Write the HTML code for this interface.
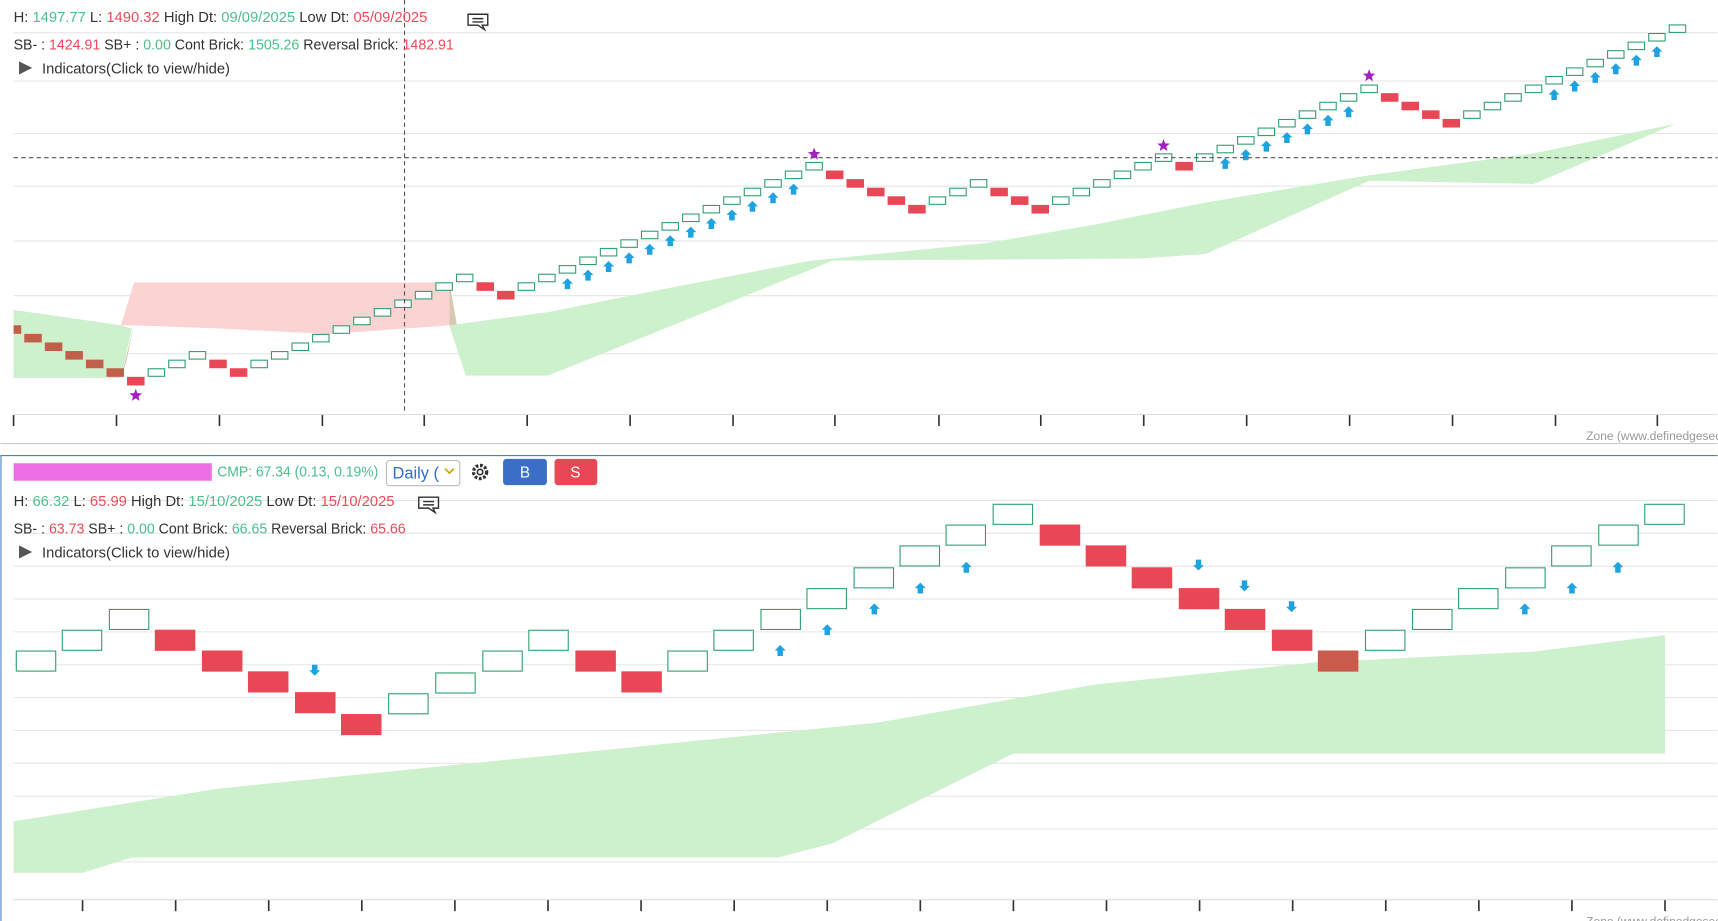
<!DOCTYPE html>
<html><head><meta charset="utf-8"><style>
html,body{margin:0;padding:0;background:#fff;overflow:hidden}
svg{display:block;font-family:"Liberation Sans",sans-serif}
</style></head><body>
<svg id="s" width="1718" height="921" viewBox="0 0 1568 841" xmlns="http://www.w3.org/2000/svg">
<rect width="1568" height="841" fill="#fff"/>
<g id="grid" stroke="#e6e6e6" stroke-width="1"></g>
<polygon points="12,283 110,297 120,300 110,345 12,345" fill="#cdf0cd"/>
<polygon points="110,297 122,258 410,258 410,297 425,343 410,297 370,300 300,305 200,300 120,297" fill="#fbd3d3"/>
<polygon points="110,345 122,297 115,330" fill="#d8c8b0"/>
<polygon points="410,258 410,297 425,343" fill="#d8c8b0"/>
<polygon points="410,297 500,285 600,265 740,238 800,232 900,222 1000,205 1100,185 1250,160 1400,140 1530,113 1400,168 1250,165 1100,232 1040,236 760,238 500,343 425,343" fill="#cdf0cd"/>
<polygon points="12,750 200,720 400,700 600,680 800,660 1000,625 1200,605 1400,595 1520,580 1520,688 925,688 760,770 710,783 120,783 75,797 12,797" fill="#cdf0cd"/>
<g id="bricks"></g>
<line x1="12" y1="144" x2="1568" y2="144" stroke="#555" stroke-dasharray="4,3"/>
<line x1="369" y1="0" x2="369" y2="378" stroke="#555" stroke-dasharray="4,3"/>
<line x1="0" y1="405" x2="1568" y2="405" stroke="#ccc"/>
<line x1="0" y1="416" x2="1568" y2="416" stroke="#4a7fc0"/>
<line x1="0.5" y1="416" x2="0.5" y2="841" stroke="#4a7fc0"/>
<g font-size="13.5">
<text x="12" y="20"><tspan fill="#333">H: </tspan><tspan fill="#4cbf8a">1497.77</tspan><tspan fill="#333"> L: </tspan><tspan fill="#ec4a5a">1490.32</tspan><tspan fill="#333"> High Dt: </tspan><tspan fill="#4cbf8a">09/09/2025</tspan><tspan fill="#333"> Low Dt: </tspan><tspan fill="#ec4a5a">05/09/2025</tspan></text>
<text x="12" y="45" textLength="402" lengthAdjust="spacingAndGlyphs"><tspan fill="#333">SB- : </tspan><tspan fill="#ec4a5a">1424.91</tspan><tspan fill="#333"> SB+ : </tspan><tspan fill="#4cbf8a">0.00</tspan><tspan fill="#333"> Cont Brick: </tspan><tspan fill="#4cbf8a">1505.26</tspan><tspan fill="#333"> Reversal Brick: </tspan><tspan fill="#ec4a5a">1482.91</tspan></text>
<text x="38" y="67" fill="#333">Indicators(Click to view/hide)</text>
<text x="12" y="462"><tspan fill="#333">H: </tspan><tspan fill="#4cbf8a">66.32</tspan><tspan fill="#333"> L: </tspan><tspan fill="#ec4a5a">65.99</tspan><tspan fill="#333"> High Dt: </tspan><tspan fill="#4cbf8a">15/10/2025</tspan><tspan fill="#333"> Low Dt: </tspan><tspan fill="#ec4a5a">15/10/2025</tspan></text>
<text x="12" y="487" textLength="358" lengthAdjust="spacingAndGlyphs"><tspan fill="#333">SB- : </tspan><tspan fill="#ec4a5a">63.73</tspan><tspan fill="#333"> SB+ : </tspan><tspan fill="#4cbf8a">0.00</tspan><tspan fill="#333"> Cont Brick: </tspan><tspan fill="#4cbf8a">66.65</tspan><tspan fill="#333"> Reversal Brick: </tspan><tspan fill="#ec4a5a">65.66</tspan></text>
<text x="38" y="509" fill="#333">Indicators(Click to view/hide)</text>
<text x="198" y="435" fill="#4cbf8a" textLength="147" lengthAdjust="spacingAndGlyphs">CMP: 67.34 (0.13, 0.19%)</text>
</g>
<polygon points="17,56 29,62 17,68" fill="#555"/>
<polygon points="17,498 29,504 17,510" fill="#555"/>
<rect x="12" y="423" width="181" height="16" fill="#ee6ee6"/>
<rect x="352.5" y="420.5" width="67" height="23" rx="3" fill="#fff" stroke="#bbb"/>
<text x="358" y="437" font-size="15" fill="#2a6dd0">Daily (</text>
<path d="M406,428 l4,4 l4,-4" fill="none" stroke="#c8a000" stroke-width="1.5"/>
<circle cx="438" cy="431" r="6" fill="none" stroke="#333" stroke-width="3" stroke-dasharray="2.5,1.5"/>
<circle cx="438" cy="431" r="2.5" fill="#fff" stroke="#333" stroke-width="1.5"/>
<rect x="459" y="419" width="40" height="24" rx="3" fill="#3a6fc5"/>
<text x="479" y="436" font-size="14" fill="#fff" text-anchor="middle">B</text>
<rect x="506" y="419" width="39" height="24" rx="3" fill="#e84855"/>
<text x="525" y="436" font-size="14" fill="#fff" text-anchor="middle">S</text>
<g fill="none" stroke="#333" stroke-width="1.3">
<path d="M427,13 h18 v10 h-5 l2,4 l-6,-4 h-9 z"/><path d="M431,17 h10 M431,20 h10"/>
<path d="M382,454 h18 v10 h-5 l2,4 l-6,-4 h-9 z"/><path d="M386,458 h10 M386,461 h10"/>
</g>
<text x="1448" y="402" font-size="11" fill="#999">Zone (www.definedgesec</text>
<text x="1448" y="845" font-size="11" fill="#999">Zone (www.definedgesec</text>
<g id="ax" stroke="#333"></g>
</svg>
<script>
var NS="http://www.w3.org/2000/svg";
function el(p,t,a){var e=document.createElementNS(NS,t);for(var k in a)e.setAttribute(k,a[k]);p.appendChild(e);return e;}
var G=document.getElementById('grid'),B=document.getElementById('bricks'),A=document.getElementById('ax');
[30,74,122,170,220,270,323].forEach(function(y){el(G,'line',{x1:12,x2:1568,y1:y,y2:y});});
[457,487,517,547,577,607,637,667,697,727,757,787].forEach(function(y){el(G,'line',{x1:12,x2:1568,y1:y,y2:y});});
el(A,'line',{x1:12,x2:1568,y1:378.5,y2:378.5,stroke:'#ddd'});
[12,106,200,294,387,481,575,669,762,857,950,1044,1138,1232,1326,1420,1513].forEach(function(x){el(A,'line',{x1:x,x2:x,y1:379,y2:389,'stroke-width':1.5});});
el(A,'line',{x1:12,x2:1568,y1:821.5,y2:821.5,stroke:'#ddd'});
[75,160,245,330,415,500,585,670,755,840,925,1010,1095,1180,1265,1350,1435,1520].forEach(function(x){el(A,'line',{x1:x,x2:x,y1:822,y2:832,'stroke-width':1.5});});
function brick(x,y,w,h,up,col){
 if(up)el(B,'rect',{x:x+.5,y:y+.5,width:w-1,height:h-1,fill:'#fff',stroke:'#2f9e6e'});
 else el(B,'rect',{x:x,y:y,width:w,height:h,fill:col||'#e84855'});
}
function arrow(cx,cy,up,s){
 var d=up?'M'+cx+','+(cy-s)+' l'+s+','+s+' h-'+(s*0.5)+' v'+s+' h-'+s+' v-'+s+' h-'+(s*0.5)+' z'
        :'M'+cx+','+(cy+s)+' l'+s+',-'+s+' h-'+(s*0.5)+' v-'+s+' h-'+s+' v'+s+' h-'+(s*0.5)+' z';
 el(B,'path',{d:d,fill:'#1fa3e0'});
}
function star(cx,cy){var p=[];for(var i=0;i<10;i++){var r=i%2?2.6:6,a=-Math.PI/2+i*Math.PI/5;p.push((cx+r*Math.cos(a)).toFixed(1)+','+(cy+r*Math.sin(a)).toFixed(1));}el(B,'polygon',{points:p.join(' '),fill:'#a020c0'});}
var seq=[[0,7],[1,3],[0,2],[1,11],[0,2],[1,15],[0,5],[1,3],[0,3],[1,6],[0,1],[1,9],[0,4],[1,11]];
var h=7.85,step=18.77,y=297,k=0,ys=[],xs=[];
el(B,'clipPath',{id:'cp'}).appendChild(document.createElementNS(NS,'rect'));
var cr=B.querySelector('#cp rect');cr.setAttribute('x',12);cr.setAttribute('y',0);cr.setAttribute('width',1600);cr.setAttribute('height',400);
var TB=el(B,'g',{'clip-path':'url(#cp)'});
seq.forEach(function(s){for(var i=0;i<s[1];i++){var up=s[0]==1;
 if(k>0) y+=up?-h:h;
 var x=3+k*step; xs.push(x); ys.push(y);
 if(up)el(TB,'rect',{x:x+.5,y:y+.5,width:15,height:h-1,fill:'#fff',stroke:'#2f9e6e'});
 else el(TB,'rect',{x:x,y:y,width:16,height:h,fill:x<110?'#c0604a':'#e84855'});
 k++;}});
function aK(a,b){for(var i=a;i<=b;i++)arrow(xs[i]+8,ys[i]+17,true,5);}
aK(27,38);aK(59,65);aK(75,80);
star(xs[6]+8,ys[6]+17);star(xs[39]+8,ys[39]-7);star(xs[56]+8,ys[56]-7);star(xs[66]+8,ys[66]-8);
var bs=[[14,594,1],[56,575,1],[99,556,1],[141,575,0],[184,594,0],[226,613,0],[269,632,0],[311,652,0],[354,633,1],[397,614,1],[440,594,1],[482,575,1],[525,594,0],[567,613,0],[609,594,1],[651,575,1],[694,556,1],[736,537,1],[779,518,1],[821,498,1],[863,479,1],[906,460,1],[949,479,0],[991,498,0],[1033,518,0],[1076,537,0],[1118,556,0],[1161,575,0],[1203,594,0],[1246,575,1],[1289,556,1],[1331,537,1],[1374,518,1],[1416,498,1],[1459,479,1],[1501,460,1]];
bs.forEach(function(b){brick(b[0],b[1],37,19.3,b[2]==1,b[0]==1203?'#c95a4c':null);});
[[287,612],[1094,516],[1136,535],[1179,554]].forEach(function(a){arrow(a[0],a[1],false,5);});
[[712,594],[755,575],[798,556],[840,537],[882,518],[1392,556],[1435,537],[1477,518]].forEach(function(a){arrow(a[0],a[1],true,5);});
</script>
</body></html>
